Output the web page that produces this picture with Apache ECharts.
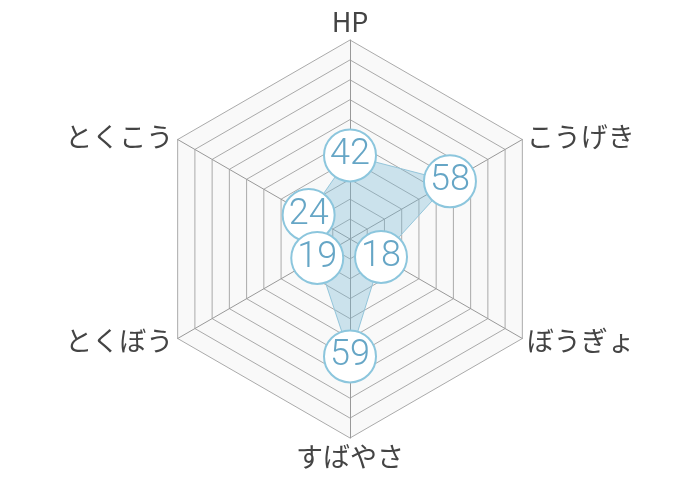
<!DOCTYPE html>
<html>
<head>
<meta charset="utf-8">
<script src="https://cdn.jsdelivr.net/npm/echarts@6/dist/echarts.min.js"></script>
<style>
html, body { margin: 0; padding: 0; background: #fff; }
#main { width: 700px; height: 480px; }
</style>
</head>
<body>
<div id="main"></div>
<script>
// stat names and values, in order HP -> こうげき -> ... (clockwise from top)
var statNames = ['HP', 'こうげき', 'ぼうぎょ', 'すばやさ', 'とくぼう', 'とくこう'];
var statValues = [42, 58, 18, 59, 19, 24];
var statMax = 100;

var chart = echarts.init(document.getElementById('main'));

// echarts lays indicators out counter-clockwise, so walk the list backwards
var order = [0, 5, 4, 3, 2, 1];
var indicators = [];
var values = [];
for (var i = 0; i < order.length; i++) {
    indicators.push({ name: statNames[order[i]], max: statMax });
    values.push(statValues[order[i]]);
}

var option = {
    animation: false,
    radar: {
        center: ['50%', 239],
        radius: 199,
        startAngle: 90,
        splitNumber: 10,
        shape: 'polygon',
        indicator: indicators,
        axisName: {
            color: '#444',
            fontSize: 27,
            fontFamily: 'Noto Sans CJK JP',
            fontWeight: 'normal'
        },
        nameGap: 5,
        axisLine: { lineStyle: { color: '#999', width: 1 } },
        splitLine: { lineStyle: { color: '#aaa', width: 1 } },
        splitArea: { show: true, areaStyle: { color: ['#f9f9f9'] } }
    },
    series: [{
        type: 'radar',
        symbol: 'circle',
        symbolSize: 52,
        itemStyle: {
            color: '#fff',
            borderColor: '#8cc6dd',
            borderWidth: 2
        },
        lineStyle: { color: '#9cc9dc', width: 1 },
        areaStyle: { color: 'rgba(120,184,212,0.5)' },
        label: {
            show: true,
            position: 'inside',
            color: '#66a6c6',
            fontSize: 36,
            fontFamily: 'Roboto',
            fontWeight: 300
        },
        data: [{ value: values }]
    }]
};

chart.setOption(option);
</script>
</body>
</html>
